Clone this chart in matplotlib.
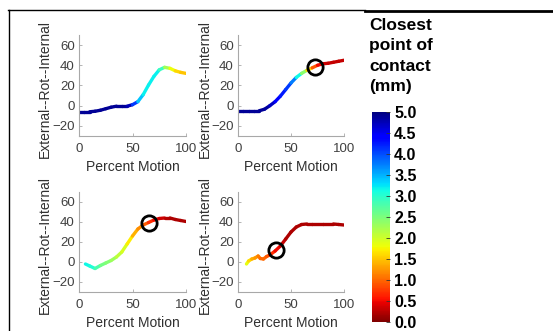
import numpy as np
import matplotlib
matplotlib.use('Agg')
import matplotlib.pyplot as plt
from matplotlib.collections import LineCollection
from matplotlib.colors import Normalize
from matplotlib.cm import ScalarMappable
from matplotlib.lines import Line2D

plt.rcParams['font.family'] = ['Liberation Sans', 'DejaVu Sans']

# ---- data ----
# panel 1 (top left)
p1_x = [0, 5, 10, 15, 20, 25, 30, 35, 40, 45, 50, 55, 60, 65, 70, 75, 80, 85, 90, 95, 100]
p1_y = [-6, -6, -6, -5.5, -4.5, -3, -1.5, -0.5, -0.5, -0.5, 1, 4, 11, 20.5, 29, 35.5, 38, 37, 34.5, 33, 32]
p1_d = [4.9, 4.9, 4.9, 4.9, 4.9, 4.9, 4.9, 4.9, 4.9, 4.9, 4.6, 3.6, 3.2, 3.2, 3.2, 3.2, 2.6, 1.9, 1.7, 1.5, 1.5]

# panel 2 (top right)
p2_x = [0, 5, 10, 15, 20, 25, 30, 35, 40, 45, 50, 55, 60, 65, 70, 75, 80, 85, 90, 95, 100]
p2_y = [-5, -5, -5, -5, -5, -3.5, 0, 4, 9.5, 16, 22.5, 28, 32, 35, 37.5, 40, 41.5, 42, 43, 44, 45]
p2_d = [4.9, 4.9, 4.9, 4.9, 4.9, 4.9, 4.8, 4.6, 4.3, 4.2, 4.0, 3.5, 2.8, 2.0, 1.2, 0.6, 0.4, 0.3, 0.3, 0.3, 0.3]
p2_circle = (72.5, 38)

# panel 3 (bottom left)
p3_x = [6, 10, 15, 20, 25, 30, 35, 40, 45, 50, 55, 60, 65, 70, 75, 80, 85, 90, 95, 100]
p3_y = [-2, -4, -6.5, -3.5, -1, 1.5, 5, 10, 18, 26, 33, 37, 39.5, 42, 43.5, 44, 44, 42.5, 41.5, 40.5]
p3_d = [3.2, 3.1, 3.0, 2.6, 2.5, 2.4, 2.2, 2.0, 1.9, 1.5, 1.3, 1.1, 0.8, 0.6, 0.4, 0.3, 0.2, 0.2, 0.2, 0.2]
p3_circle = (65.5, 39.5)

# panel 4 (bottom right)
p4_x = [8, 10, 13, 16, 19, 21, 24, 27, 30, 35, 40, 45, 50, 55, 60, 65, 70, 80, 90, 95, 100]
p4_y = [-2, 1, 3, 4, 6, 3.5, 3, 5.5, 7, 11, 16, 23, 30, 35, 37.5, 38, 38, 38, 38, 37.5, 37]
p4_d = [1.9, 1.8, 1.4, 1.3, 1.2, 1.0, 1.0, 1.0, 0.8, 0.6, 0.4, 0.2, 0.2, 0.2, 0.2, 0.2, 0.2, 0.2, 0.2, 0.2, 0.2]
p4_circle = (35.5, 12)

cbar_ticks = [0.0, 0.5, 1.0, 1.5, 2.0, 2.5, 3.0, 3.5, 4.0, 4.5, 5.0]

W, H = 553, 331
fig = plt.figure(figsize=(W / 100, H / 100), dpi=100)
cmap = plt.get_cmap('jet_r')
norm = Normalize(0, 5)


def px_axes(left, top, right, bottom):
    return fig.add_axes([left / W, 1 - bottom / H, (right - left) / W, (bottom - top) / H])


def draw_panel(ax, xs, ys, ds, circle=None):
    pts = np.column_stack([xs, ys])
    segs = np.stack([pts[:-1], pts[1:]], axis=1)
    dmid = (np.array(ds[:-1]) + np.array(ds[1:])) / 2
    lc = LineCollection(segs, cmap=cmap, norm=norm, linewidths=2.4, capstyle='round', joinstyle='round')
    lc.set_array(dmid)
    ax.add_collection(lc)
    if circle is not None:
        ax.plot(*circle, 'o', mfc='none', mec='black', ms=11, mew=2)
    ax.set_xlim(0, 100)
    ax.set_ylim(-30, 70)
    ax.set_xticks([0, 50, 100])
    ax.set_yticks([-20, 0, 20, 40, 60])
    for s in ['top', 'right']:
        ax.spines[s].set_visible(False)
    for s in ['left', 'bottom']:
        ax.spines[s].set_color('#a8a8a8')
        ax.spines[s].set_linewidth(0.8)
    ax.tick_params(direction='in', length=2.5, width=0.6, color='#a8a8a8',
                   labelsize=9.5, labelcolor='#404040')
    ax.tick_params(axis='x', pad=5)
    ax.tick_params(axis='y', pad=3)
    ax.set_xlabel('Percent Motion', fontsize=10, color='#303030')
    ax.set_ylabel('External--Rot--Internal', fontsize=10, color='#303030')
    ax.xaxis.set_label_coords(0.5, -0.24)
    ax.yaxis.set_label_coords(-0.25, 0.47)


ax1 = px_axes(79, 35, 186, 136)
ax2 = px_axes(238, 35, 344, 136)
ax3 = px_axes(79, 192, 186, 292)
ax4 = px_axes(238, 192, 344, 292)
draw_panel(ax1, p1_x, p1_y, p1_d)
draw_panel(ax2, p2_x, p2_y, p2_d, p2_circle)
draw_panel(ax3, p3_x, p3_y, p3_d, p3_circle)
draw_panel(ax4, p4_x, p4_y, p4_d, p4_circle)

# colorbar
cax = px_axes(372, 112, 390, 322)
cb = fig.colorbar(ScalarMappable(norm=norm, cmap=cmap), cax=cax, ticks=cbar_ticks)
cb.outline.set_visible(False)
cb.ax.set_yticklabels([f'{t:.1f}' for t in cbar_ticks], fontweight='bold', fontsize=11.5)
cb.ax.tick_params(direction='in', length=3, width=0.6, color='#333333', pad=3)

fig.text(369 / W, 1 - 18 / H, 'Closest\npoint of\ncontact\n(mm)', fontsize=12.5, fontweight='bold',
         va='top', ha='left', linespacing=1.45)

# frame lines from the original figure border
fig.add_artist(Line2D([8 / W, 365 / W], [1 - 9.5 / H, 1 - 9.5 / H], color='black', lw=1.0))
fig.add_artist(Line2D([365 / W, 1], [1 - 10.5 / H, 1 - 10.5 / H], color='black', lw=2.0))
fig.add_artist(Line2D([8.5 / W, 8.5 / W], [0, 1 - 9.5 / H], color='black', lw=1.0))

fig.savefig('out.png', dpi=100)
